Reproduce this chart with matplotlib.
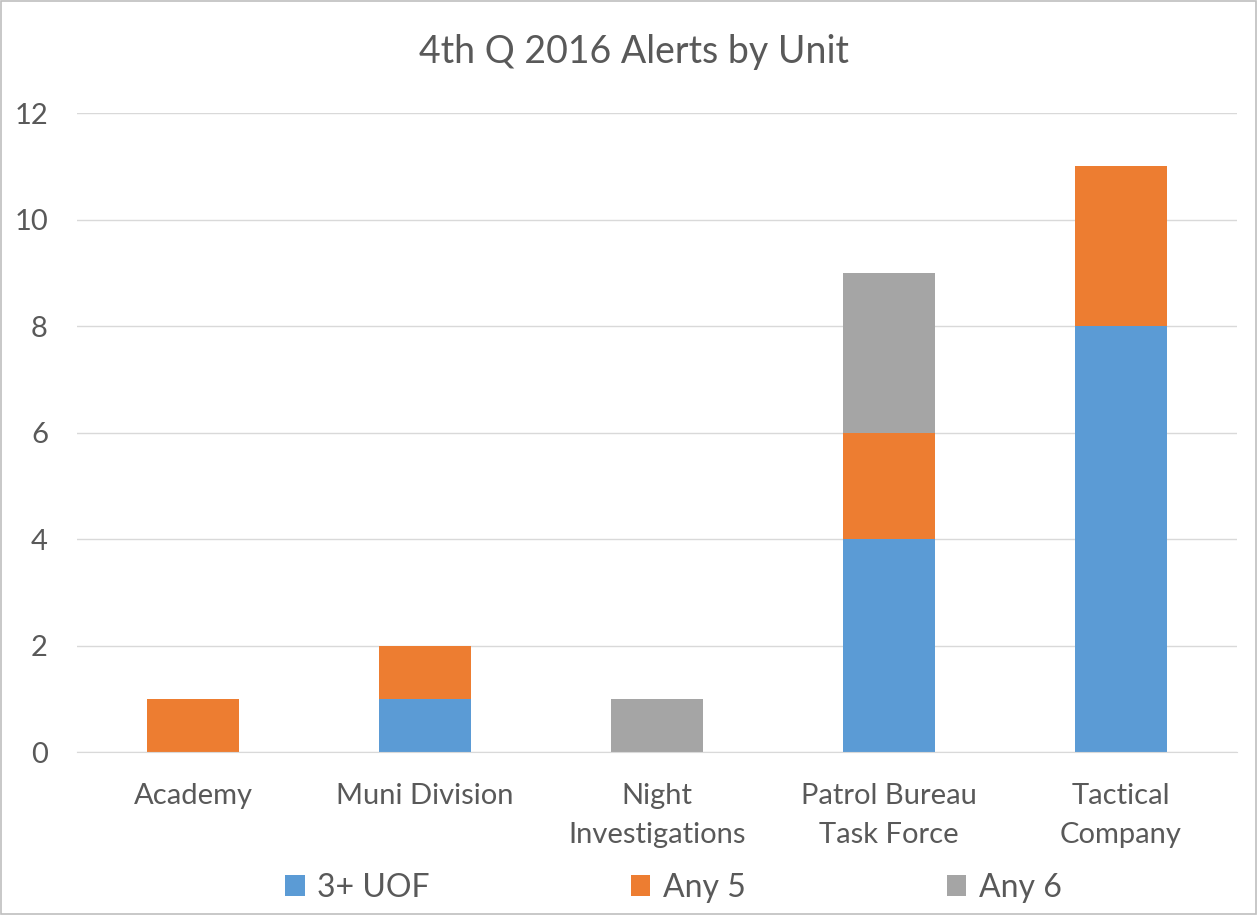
import numpy as np
import matplotlib
matplotlib.use("Agg")
import matplotlib.pyplot as plt
from matplotlib.patches import Rectangle

units = ["Academy", "Muni Division", "Night\nInvestigations", "Patrol Bureau\nTask Force", "Tactical\nCompany"]
uof3 = [0, 1, 0, 4, 8]
any5 = [1, 1, 0, 2, 3]
any6 = [0, 0, 1, 3, 0]

BLUE = "#5B9BD5"
ORANGE = "#ED7D31"
GRAY = "#A5A5A5"
TXT = "#595959"

plt.rcParams['font.family'] = ['Lato', 'DejaVu Sans']

fig = plt.figure(figsize=(12.57, 9.15), dpi=100)
ax = fig.add_axes([0.0613, 0.178, 0.9227, 0.6985])

x = np.arange(len(units))
w = 0.4
b1 = np.array(uof3)
b2 = b1 + np.array(any5)
ax.bar(x, uof3, w, color=BLUE, label="3+ UOF", zorder=3)
ax.bar(x, any5, w, bottom=b1, color=ORANGE, label="Any 5", zorder=3)
ax.bar(x, any6, w, bottom=b2, color=GRAY, label="Any 6", zorder=3)

ax.set_xlim(-0.5, 4.5)
ax.set_ylim(0, 12)
ax.set_yticks(range(0, 13, 2))
ax.set_xticks(x)
ax.set_xticklabels(units, fontsize=21, color=TXT, linespacing=1.65)
ax.tick_params(axis='y', labelsize=21, labelcolor=TXT, length=0, pad=21)
ax.tick_params(axis='x', length=0, pad=22)
ax.grid(axis='y', color="#D9D9D9", linewidth=1, zorder=0)
for s in ['top', 'right', 'left']:
    ax.spines[s].set_visible(False)
ax.spines['bottom'].set_color("#D9D9D9")
ax.spines['bottom'].set_zorder(4)

fig.text(0.504, 0.943, "4th Q 2016 Alerts by Unit", ha='center', va='center', fontsize=27, color=TXT)

leg = fig.legend(loc='center', bbox_to_anchor=(0.536, 0.03), ncol=3, frameon=False,
                 fontsize=23, handlelength=0.6, handleheight=0.62, columnspacing=6.3,
                 handletextpad=0.4)
for t in leg.get_texts():
    t.set_color(TXT)

fig.patches.append(Rectangle((0.001, 0.001), 0.998, 0.998, transform=fig.transFigure,
                             fill=False, edgecolor="#BFBFBF", linewidth=1.2))

fig.savefig("out.png", dpi=100)
